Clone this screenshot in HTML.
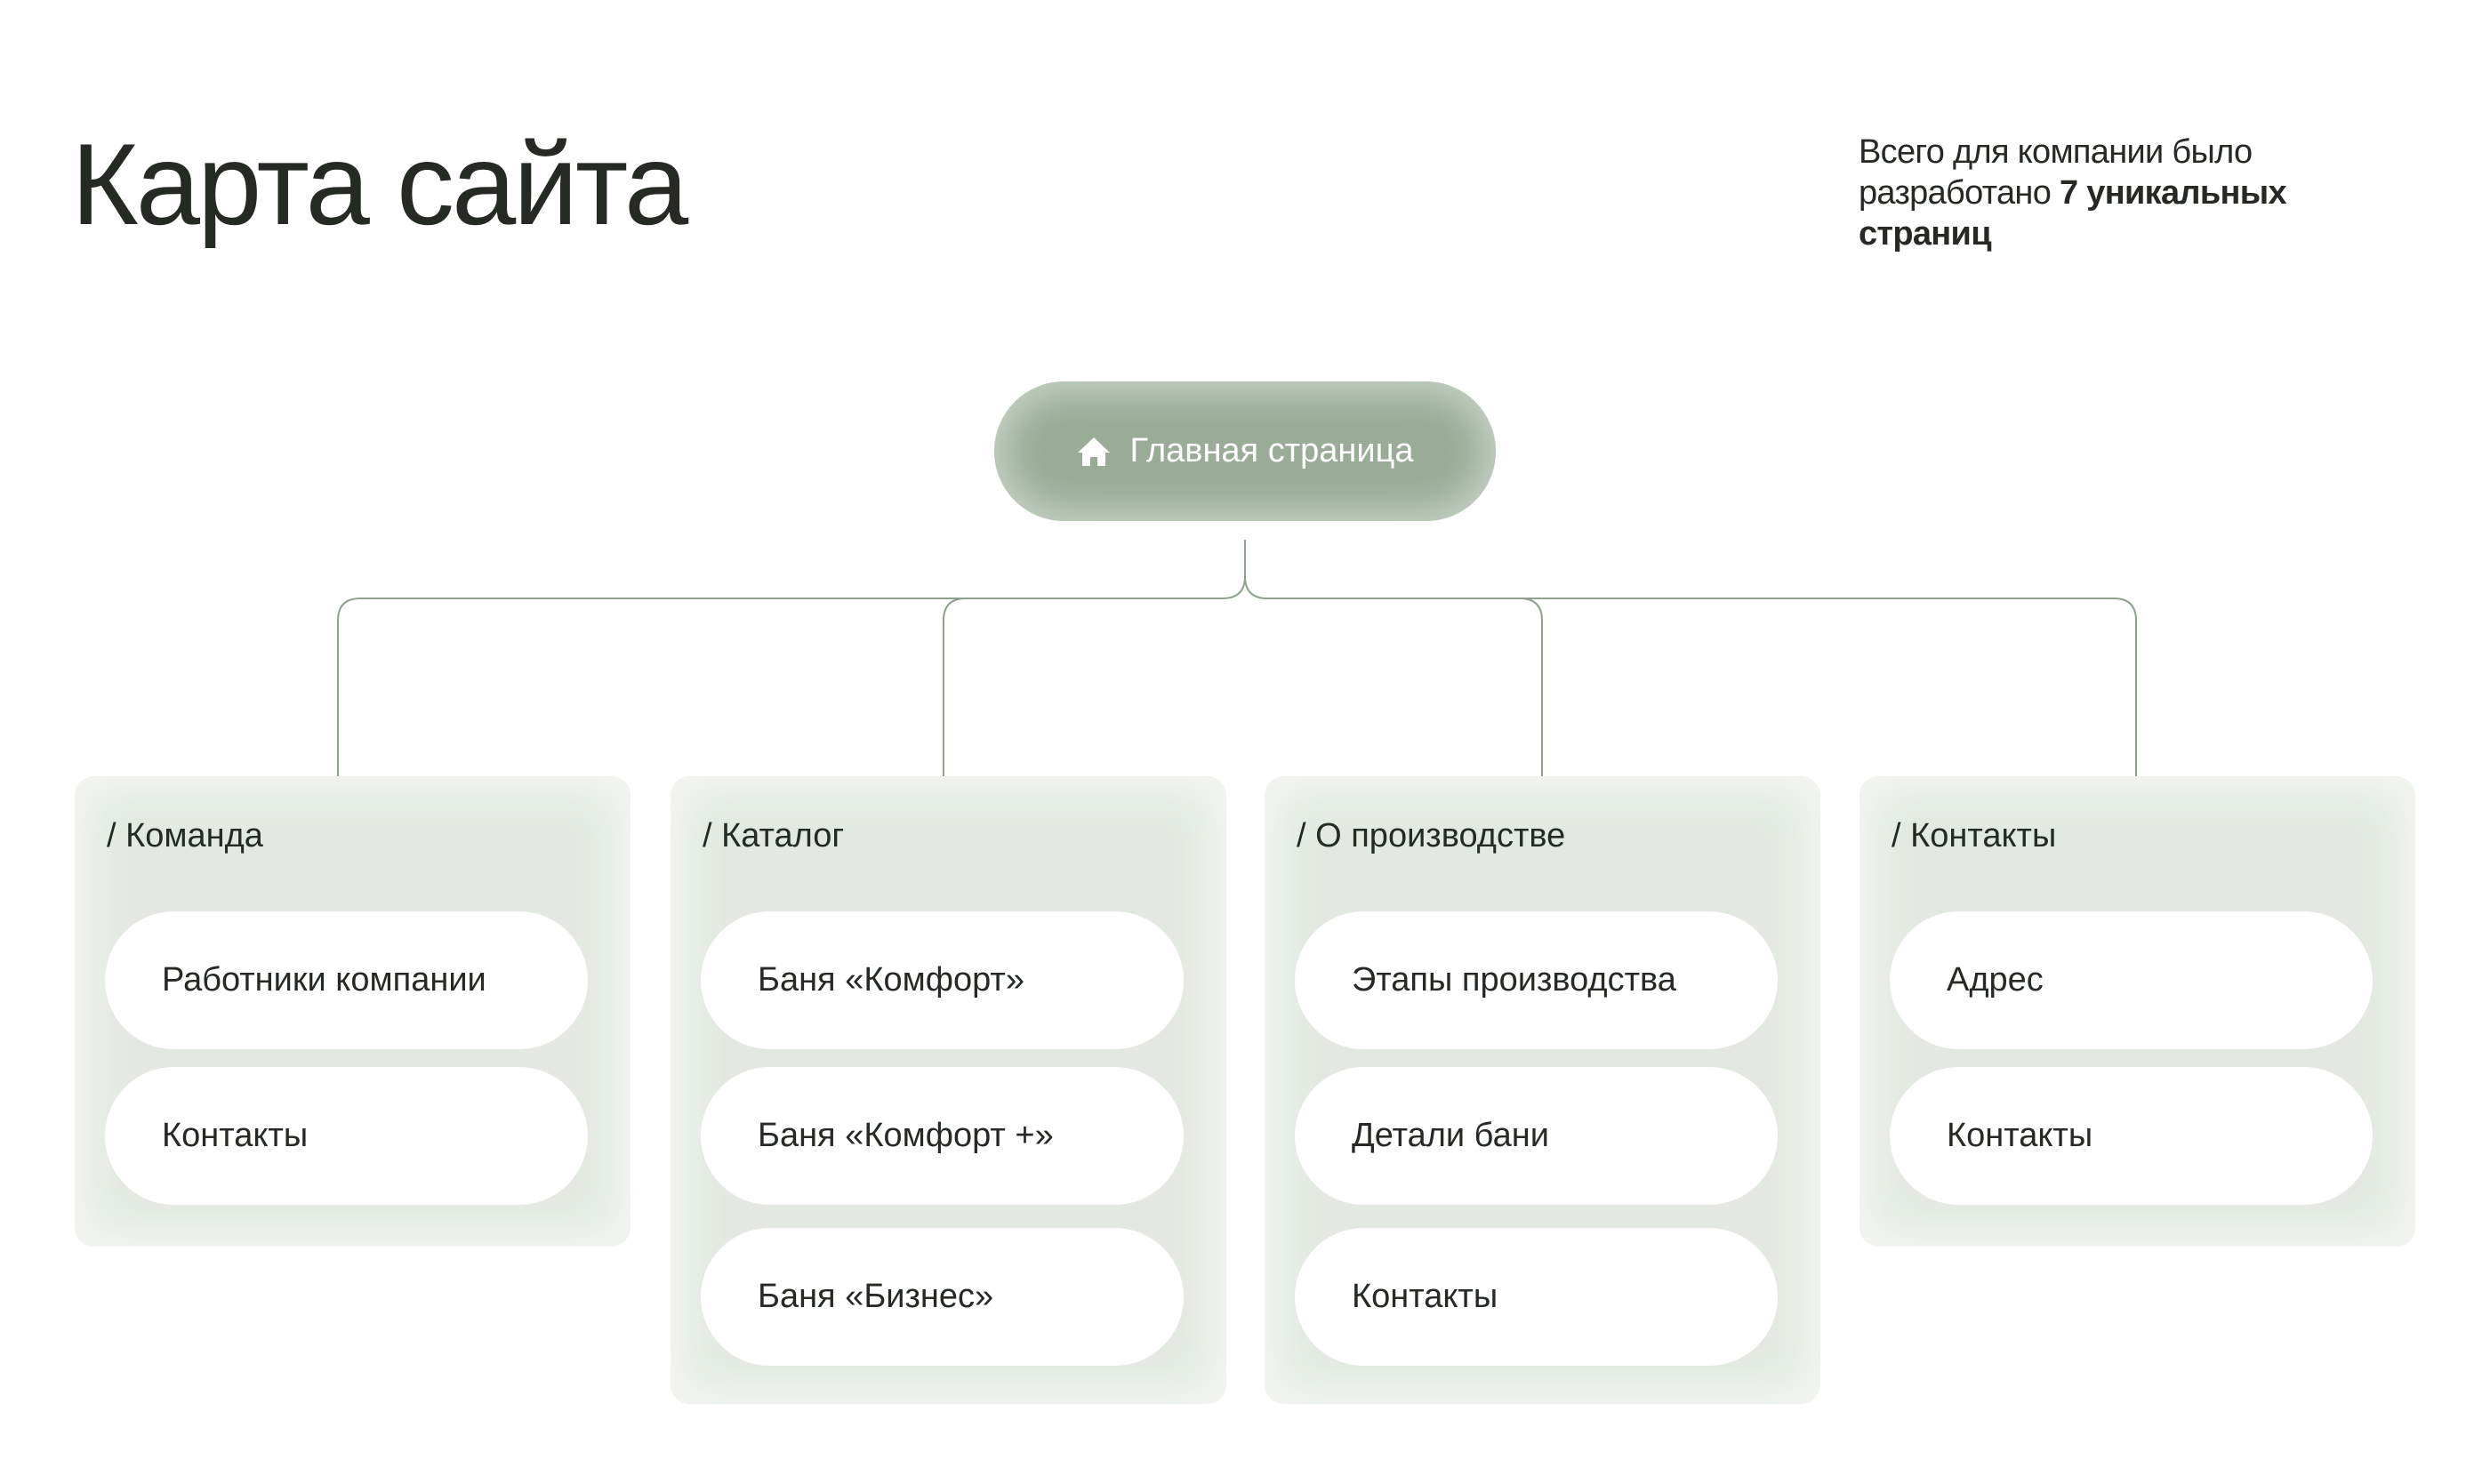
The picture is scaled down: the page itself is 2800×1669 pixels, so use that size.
<!DOCTYPE html>
<html><head><meta charset="utf-8"><style>
*{margin:0;padding:0;box-sizing:border-box}
body{width:2800px;height:1669px;background:#fff;position:relative;overflow:hidden;font-family:"Liberation Sans","Noto Sans CJK SC",sans-serif;color:#252a25}
.title{position:absolute;left:80px;top:142px;font-size:130px;letter-spacing:-3px;line-height:1}
.note{position:absolute;left:2090px;top:148px;font-size:38px;line-height:46px;letter-spacing:-0.7px}
.note b{font-weight:bold}
.main{position:absolute;left:1118px;top:429px;width:564px;height:157px;border-radius:79px;background:#9aab98;box-shadow:inset 0 0 40px 14px #c4d0c3;color:#fff;font-size:38px;display:flex;align-items:center;justify-content:center;gap:22px}
.card{position:absolute;top:873px;width:625px;border-radius:22px;background:#e3e9e2;box-shadow:inset 0 0 44px 20px #f2f5f1}
.card h3{position:absolute;left:36px;top:46px;font-weight:normal;font-size:38px}
.pill{position:absolute;left:34px;width:543px;height:155px;border-radius:78px;background:#fff;font-size:38px;display:flex;align-items:center;padding-left:64px}
svg{position:absolute;left:0;top:0}
</style></head><body>
<div class="title">Карта сайта</div>
<div class="note">Всего для компании было<br>разработано <b>7 уникальных<br>страниц</b></div>
<div class="main"><svg style="position:static" width="38" height="34" viewBox="0 0 38 34"><path d="M19 1 L37 18 H32 V33 H23 V23 H15 V33 H6 V18 H1 Z" fill="#fff"/></svg><span>Главная страница</span></div>
<svg width="2800" height="1669"><g fill="none" stroke="#8fa08e" stroke-width="2">
<path d="M1400 607 V648 Q1400 673 1375 673 H405 Q380 673 380 698 V873"/>
<path d="M1400 648 Q1400 673 1425 673 H2377 Q2402 673 2402 698 V873"/>
<path d="M1086 673 Q1061 673 1061 698 V873"/>
<path d="M1709 673 Q1734 673 1734 698 V873"/>
</g></svg>
<div class="card" style="left:84px;height:529px"><h3>/ Команда</h3>
<div class="pill" style="top:152px">Работники компании</div>
<div class="pill" style="top:327px">Контакты</div></div>
<div class="card" style="left:754px;height:706px"><h3>/ Каталог</h3>
<div class="pill" style="top:152px">Баня «Комфорт»</div>
<div class="pill" style="top:327px">Баня «Комфорт +»</div>
<div class="pill" style="top:508px">Баня «Бизнес»</div></div>
<div class="card" style="left:1422px;height:706px"><h3>/ О производстве</h3>
<div class="pill" style="top:152px">Этапы производства</div>
<div class="pill" style="top:327px">Детали бани</div>
<div class="pill" style="top:508px">Контакты</div></div>
<div class="card" style="left:2091px;height:529px"><h3>/ Контакты</h3>
<div class="pill" style="top:152px">Адрес</div>
<div class="pill" style="top:327px">Контакты</div></div>
</body></html>
